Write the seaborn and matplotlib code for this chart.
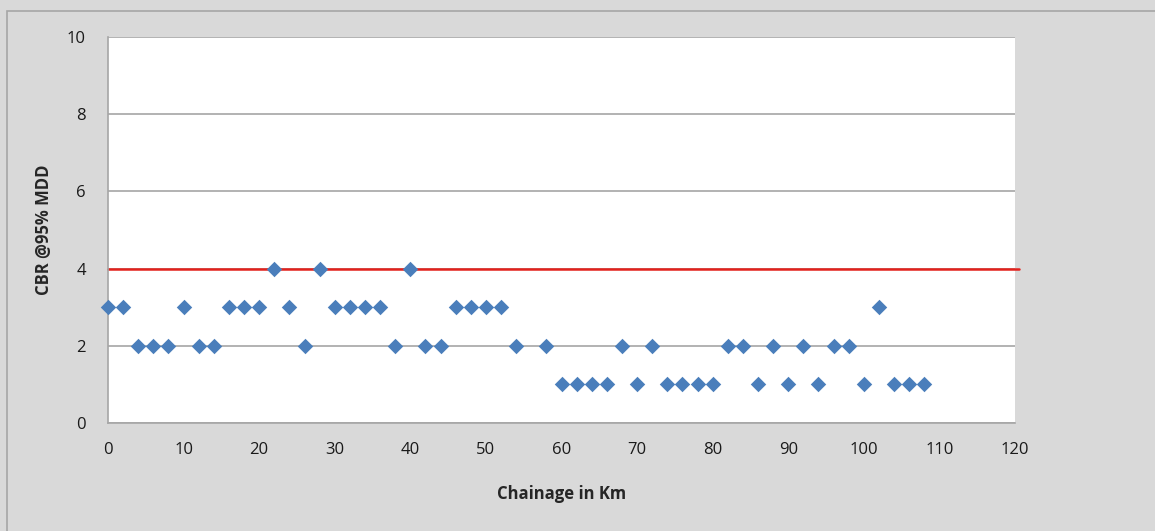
import matplotlib
matplotlib.use("Agg")
import matplotlib.pyplot as plt
import seaborn as sns
import pandas as pd
from matplotlib.patches import Rectangle

# Data (chainage in km, CBR value)
chainage = [0, 2, 4, 6, 8, 10, 12, 14, 16, 18, 20, 22, 24, 26, 28, 30, 32, 34, 36, 38,
            40, 42, 44, 46, 48, 50, 52, 54, 58, 60, 62, 64, 66, 68, 70, 72, 74, 76, 78,
            80, 82, 84, 86, 88, 90, 92, 94, 96, 98, 100, 102, 104, 106, 108]
cbr = [3, 3, 2, 2, 2, 3, 2, 2, 3, 3, 3, 4, 3, 2, 4, 3, 3, 3, 3, 2,
       4, 2, 2, 3, 3, 3, 3, 2, 2, 1, 1, 1, 1, 2, 1, 2, 1, 1, 1,
       1, 2, 2, 1, 2, 1, 2, 1, 2, 2, 1, 3, 1, 1, 1]
limit = 4
x_ticks = list(range(0, 121, 10))
y_ticks = list(range(0, 11, 2))

df = pd.DataFrame({"Chainage": chainage, "CBR": cbr})

sns.set_style("white")
plt.rcParams["font.family"] = ["Open Sans", "DejaVu Sans"]

fig = plt.figure(figsize=(11.55, 5.31), dpi=100, facecolor="#d9d9d9")
ax = fig.add_axes([108 / 1155, 108 / 531, 907 / 1155, 386 / 531])
ax.set_facecolor("white")

# outer chart frame
fig.patches.append(Rectangle((7 / 1155, -0.1), 1.2, 0.1 + 520 / 531, transform=fig.transFigure,
                             facecolor="none", edgecolor="#a6a6a6", linewidth=1.2))

ax.axhline(limit, color="#e3211c", linewidth=1.8, zorder=2, clip_on=False, xmax=1.004)
sns.scatterplot(data=df, x="Chainage", y="CBR", marker="D", s=62, color="#4a7ebb",
                linewidth=0, ax=ax, zorder=3, clip_on=False)

ax.set_xlim(0, 120)
ax.set_ylim(0, 10)
ax.set_xticks(x_ticks)
ax.set_yticks(y_ticks)
ax.yaxis.grid(True, color="#a6a6a6", linewidth=1.2)
ax.set_axisbelow(True)
for side in ["top", "right"]:
    ax.spines[side].set_visible(False)
for side in ["left", "bottom"]:
    ax.spines[side].set_color("#a6a6a6")
    ax.spines[side].set_linewidth(1.2)
ax.tick_params(axis="both", length=0, labelsize=12, colors="#1a1a1a")
ax.tick_params(axis="y", pad=16)
ax.tick_params(axis="x", pad=14)

ax.set_xlabel("Chainage in Km", fontsize=12, fontweight="bold", labelpad=19)
ax.set_ylabel("CBR @95% MDD", fontsize=12, fontweight="bold", labelpad=10)

fig.savefig("out.png", dpi=100, facecolor=fig.get_facecolor())
